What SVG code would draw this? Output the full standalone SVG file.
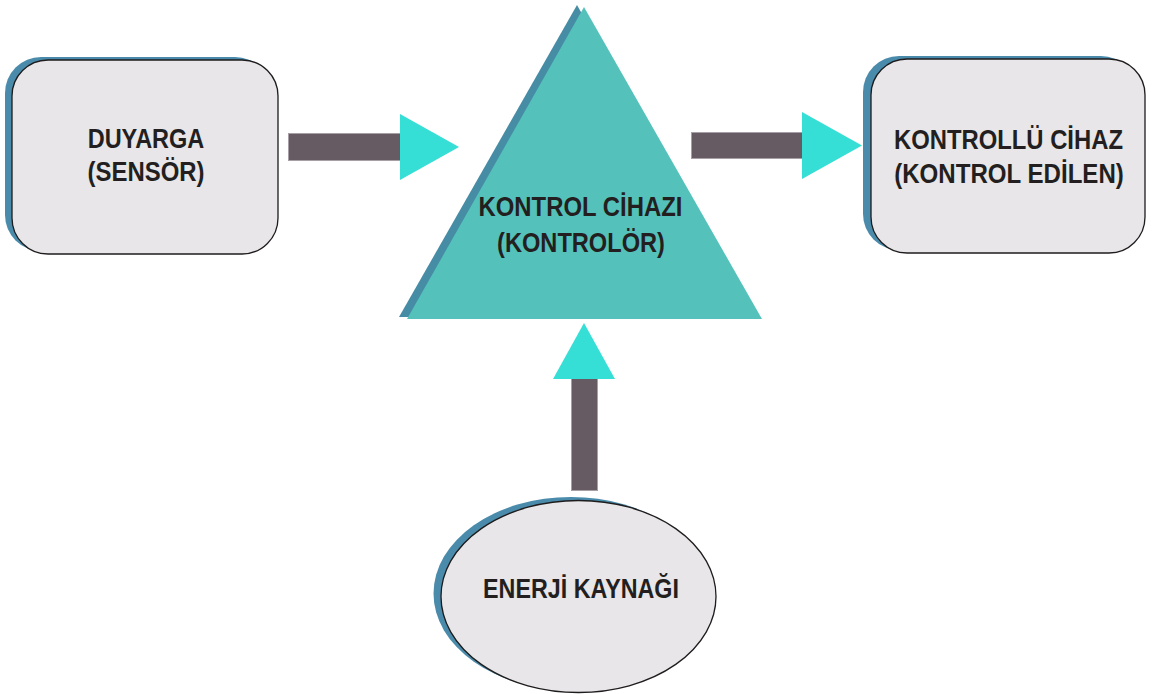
<svg xmlns="http://www.w3.org/2000/svg" width="1153" height="694" viewBox="0 0 1153 694">
<style>
.shadow{fill:#4a8bab}
.box{fill:#e8e6e8;stroke:#1e1c1d;stroke-width:1.3}
.tri{fill:#54c2bb}
.trishadow{fill:#468ca4}
.bar{fill:#665a63;stroke:#a89ea5;stroke-width:1}
.head{fill:#36dfd6}
.lbl{font-family:"Liberation Sans",Arial,sans-serif;font-weight:bold;font-size:28px;fill:#231f20;text-anchor:middle}
.sm{font-size:27px}
</style>
<rect width="1153" height="694" fill="#ffffff"/>
<g id="connectors">
<rect class="bar" x="288.5" y="133.5" width="112" height="27"/>
<polygon class="head" points="400,114 459,147 400,180"/>
<rect class="bar" x="691.5" y="132.5" width="111" height="26"/>
<polygon class="head" points="802,112 862,145.5 802,179"/>
<rect class="bar" x="571.5" y="378.5" width="26" height="112"/>
<polygon class="head" points="584,323 615,379 553,379"/>
</g>
<g id="sensor">
<rect class="shadow" x="5" y="57" width="266" height="194" rx="36" ry="36"/>
<rect class="box" x="12" y="60" width="266" height="194" rx="36" ry="36"/>
<g transform="translate(146,148) scale(0.84,1)"><text class="lbl" x="0" y="0">DUYARGA</text></g>
<g transform="translate(146,181) scale(0.855,1)"><text class="lbl" x="0" y="0">(SENSÖR)</text></g>
</g>
<g id="controller">
<polygon class="trishadow" points="577,5 399,317 754,317"/>
<polygon class="tri" points="584,7 407,319 762,319"/>
<g transform="translate(580.5,216) scale(0.885,1)"><text class="lbl sm" x="0" y="0">KONTROL CİHAZI</text></g>
<g transform="translate(581,252) scale(0.875,1)"><text class="lbl sm" x="0" y="0">(KONTROLÖR)</text></g>
</g>
<g id="controlled">
<rect class="shadow" x="863" y="56" width="274" height="194" rx="36" ry="36"/>
<rect class="box" x="871" y="59" width="274" height="194" rx="36" ry="36"/>
<g transform="translate(1008.5,149) scale(0.851,1)"><text class="lbl" x="0" y="0">KONTROLLÜ CİHAZ</text></g>
<g transform="translate(1009,183) scale(0.86,1)"><text class="lbl" x="0" y="0">(KONTROL EDİLEN)</text></g>
</g>
<g id="energy">
<ellipse class="shadow" cx="571" cy="593.5" rx="137.5" ry="96.5"/>
<ellipse class="box" cx="578.5" cy="596.5" rx="137.5" ry="96"/>
<g transform="translate(581,598) scale(0.832,1)"><text class="lbl" x="0" y="0">ENERJİ KAYNAĞI</text></g>
</g>
</svg>
